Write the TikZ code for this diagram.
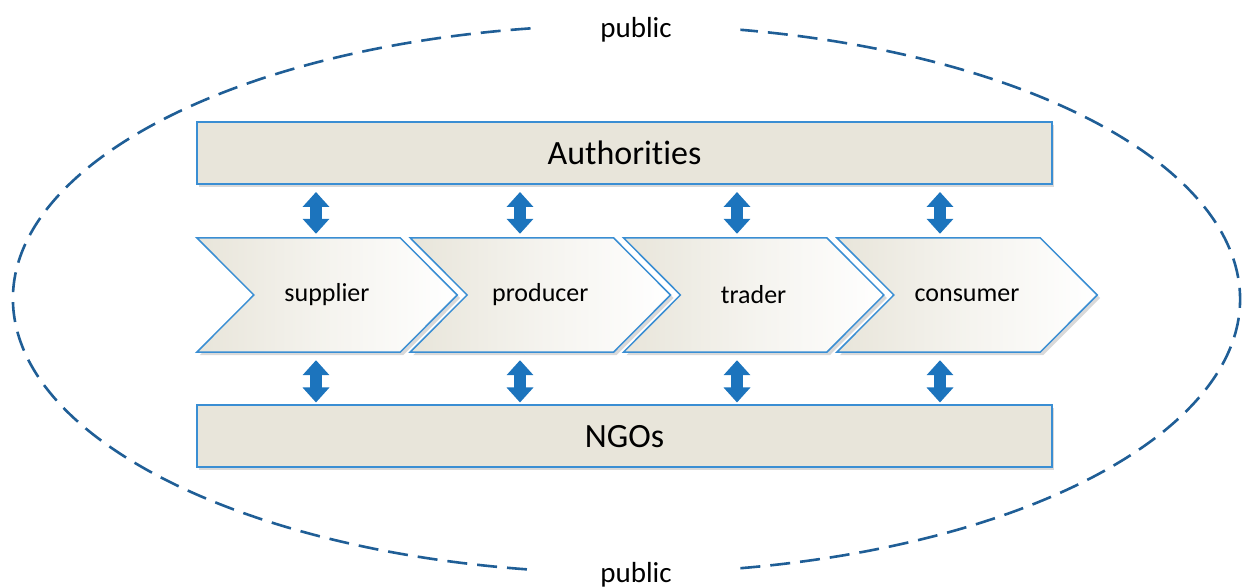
\documentclass[tikz,border=0pt]{standalone}
\usepackage{fontspec}
\setmainfont{Carlito}[RawFeature={-liga;-clig;-dlig;-calt;-rlig}]
\usetikzlibrary{arrows.meta,calc,shadows}
\definecolor{boxfill}{HTML}{E8E5DA}
\definecolor{boxline}{HTML}{3A8ED3}
\definecolor{arrowblue}{HTML}{1C74BD}
\definecolor{dashblue}{HTML}{1F5E96}
\pgfdeclarelayer{bg}
\pgfsetlayers{bg,main}
\begin{document}
\begin{tikzpicture}[x=1pt,y=1pt,
  bigbox/.style={draw=boxline, line width=2pt, fill=boxfill, minimum width=855, minimum height=62, inner sep=0,
    font=\fontsize{34}{40}\selectfont,
    drop shadow={shadow xshift=2pt, shadow yshift=-3pt, opacity=0.3}},
  chevbox/.style={minimum width=260, minimum height=114, inner sep=0, font=\fontsize{26}{30}\selectfont},
  chevshape/.style={draw=boxline, line width=1.5pt, line join=miter, left color=boxfill, right color=white, middle color=white!55!boxfill},
  chevshadow/.style={fill=black, opacity=0.15},
  dbl/.style={arrowblue, line width=12pt, {Triangle[width=26pt,length=15pt]}-{Triangle[width=26pt,length=15pt]}},
  pubdash/.style={dashblue, line width=2.6pt, dash pattern=on 20pt off 10pt},
  publabel/.style={font=\fontsize{29}{34}\selectfont, inner sep=2pt}]
\useasboundingbox (0,0) rectangle (1247,588);

% public ellipse
\coordinate (E) at (626.5,289);
\draw[pubdash] ($(E)+(99:613.5 and 274)$) arc[start angle=99, end angle=261, x radius=613.5, y radius=274];
\draw[pubdash] ($(E)+(-79.3:613.5 and 274)$) arc[start angle=-79.3, end angle=79.3, x radius=613.5, y radius=274];
\node[publabel] (pubtop) at (636,558) {public};
\node[publabel] (pubbot) at (636,13) {public};

% boxes
\node[bigbox] (auth) at (624.5,435) {Authorit\kern0pt ies};
\node[bigbox] (ngo) at (624.5,151.5) {NGOs};

% chevrons
\node[chevbox] (c1) at (327,293) {supplier};
\node[chevbox] (c2) at (540.3,293) {producer};
\node[chevbox] (c3) at (753.6,293) {trader};
\node[chevbox] (c4) at (967,293) {consumer};
\begin{pgfonlayer}{bg}
\foreach \c in {c1,c2,c3,c4}{
  \path[chevshadow] ([shift={(3,-3)}]\c.north west) -- ([shift={(-54,-3)}]\c.north east) -- ([shift={(3,-3)}]\c.east) -- ([shift={(-54,-3)}]\c.south east) -- ([shift={(3,-3)}]\c.south west) -- ([shift={(60,-3)}]\c.west) -- cycle;
  \path[chevshape] (\c.north west) -- ([xshift=-57]\c.north east) -- (\c.east) -- ([xshift=-57]\c.south east) -- (\c.south west) -- ([xshift=57]\c.west) -- cycle;
}
\end{pgfonlayer}

% arrow positions
\coordinate (x1) at (316,0);
\coordinate (x2) at (520,0);
\coordinate (x3) at (737,0);
\coordinate (x4) at (940,0);
\draw[dbl] ([yshift=-7]auth.south -| x1) -- ([yshift=4]c1.north -| x1);
\draw[dbl] ([yshift=-7]auth.south -| x2) -- ([yshift=4]c2.north -| x2);
\draw[dbl] ([yshift=-7]auth.south -| x3) -- ([yshift=4]c3.north -| x3);
\draw[dbl] ([yshift=-7]auth.south -| x4) -- ([yshift=4]c4.north -| x4);
\draw[dbl] ([yshift=-8]c1.south -| x1) -- ([yshift=2]ngo.north -| x1);
\draw[dbl] ([yshift=-8]c2.south -| x2) -- ([yshift=2]ngo.north -| x2);
\draw[dbl] ([yshift=-8]c3.south -| x3) -- ([yshift=2]ngo.north -| x3);
\draw[dbl] ([yshift=-8]c4.south -| x4) -- ([yshift=2]ngo.north -| x4);
\end{tikzpicture}
\end{document}
